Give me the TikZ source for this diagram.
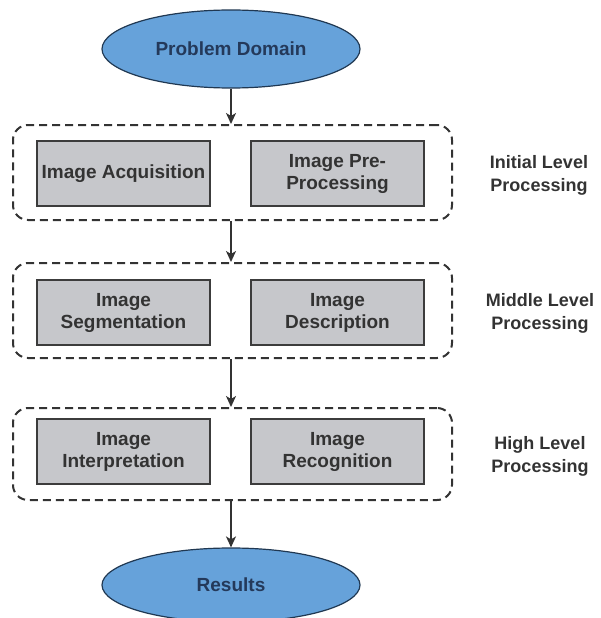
\documentclass[tikz,border=0pt]{standalone}
\usepackage{fontspec}
\setmainfont{Liberation Sans}
\usetikzlibrary{shapes.geometric,arrows.meta}
\definecolor{ovalfill}{HTML}{66A2DA}
\definecolor{ovaledge}{HTML}{203852}
\definecolor{ovaltext}{HTML}{24395A}
\definecolor{boxfill}{HTML}{C6C7CB}
\definecolor{boxedge}{HTML}{3C3C3C}
\definecolor{txt}{HTML}{333333}
\tikzset{
  oval/.style={ellipse, draw=ovaledge, line width=1.2pt, fill=ovalfill,
    minimum width=258pt, inner sep=0pt, text=ovaltext,
    font=\bfseries\fontsize{19}{22}\selectfont},
  stage/.style={draw=boxedge, line width=2pt, fill=boxfill,
    minimum width=173pt, minimum height=65pt, inner sep=0pt,
    align=center, text=txt, font=\bfseries\fontsize{19}{22}\selectfont},
  group/.style={draw=txt, line width=2pt, dash pattern=on 8pt off 5pt,
    rounded corners=15pt, minimum width=439pt, inner sep=0pt},
  levellabel/.style={align=center, text=txt,
    font=\bfseries\fontsize{18}{23}\selectfont},
  flow/.style={draw=txt, line width=1.6pt,
    -{Stealth[length=11pt,width=10pt,inset=3pt]}}
}
\begin{document}
\begin{tikzpicture}[x=1pt,y=-1pt]
\useasboundingbox (0,0) rectangle (600,618);

% start and end of the flow
\node[oval, minimum height=78pt] (domain) at (231,49) {Problem Domain};
\node[oval, minimum height=74pt] (results) at (231,585) {Results};

% processing levels
\node[group, minimum height=95pt] (initial) at (232.5,172.5) {};
\node[group, minimum height=95pt] (middle) at (232.5,310.5) {};
\node[group, minimum height=92pt] (high) at (232.5,454) {};

\node[stage] (acq) at (123.5,173.5) {Image Acquisition};
\node[stage] (pre) at (337.5,173.5) {Image Pre-\\Processing};
\node[stage] (seg) at (123.5,312.5) {Image\\Segmentation};
\node[stage] (desc) at (337.5,312.5) {Image\\Description};
\node[stage] (interp) at (123.5,451.5) {Image\\Interpretation};
\node[stage] (recog) at (337.5,451.5) {Image\\Recognition};

\node[levellabel] (l1) at (539,175) {Initial Level\\Processing};
\node[levellabel] (l2) at (540,313) {Middle Level\\Processing};
\node[levellabel] (l3) at (540,456) {High Level\\Processing};

% connectors
\draw[flow] (domain.south -| 231,0) -- (initial.north -| 231,0);
\draw[flow] (initial.south -| 231,0) -- (middle.north -| 231,0);
\draw[flow] (middle.south -| 231,0) -- (high.north -| 231,0);
\draw[flow] (high.south -| 231,0) -- (results.north -| 231,0);
\end{tikzpicture}
\end{document}
